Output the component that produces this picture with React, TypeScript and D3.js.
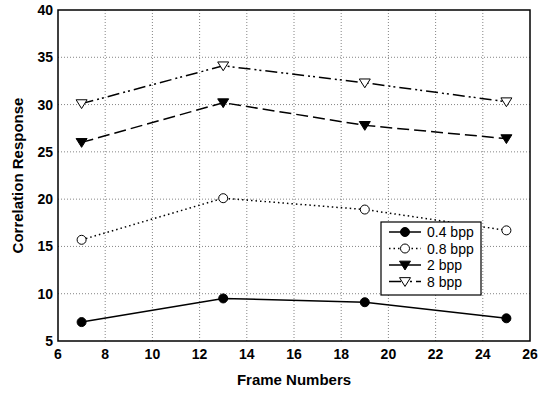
import React from 'react';
import * as d3 from 'd3';

const frames = [7, 13, 19, 25];
const bpp04 = [7.0, 9.5, 9.1, 7.4];
const bpp08 = [15.7, 20.1, 18.9, 16.7];
const bpp2 = [26.0, 30.2, 27.8, 26.4];
const bpp8 = [30.1, 34.1, 32.3, 30.3];
const xTicks = [6, 8, 10, 12, 14, 16, 18, 20, 22, 24, 26];
const yTicks = [5, 10, 15, 20, 25, 30, 35, 40];

const series = [
    { name: '0.4 bpp', values: bpp04, dash: '', legendDash: '', marker: 'circle', fill: '#000' },
    { name: '0.8 bpp', values: bpp08, dash: '1.5,3', legendDash: '1.5,3', marker: 'circle', fill: '#fff' },
    { name: '2 bpp', values: bpp2, dash: '12,5', legendDash: '', marker: 'down', fill: '#000' },
    { name: '8 bpp', values: bpp8, dash: '12,4,2,3,2,4', legendDash: '12,4,2,3,2,4', marker: 'down', fill: '#fff' },
];

const width = 548;
const height = 393;
const margin = { top: 10, right: 18, bottom: 52, left: 58 };

const Marker = ({ type, fill, x, y }: { type: string; fill: string; x: number; y: number }) => {
    if (type === 'circle') {
        return <circle cx={x} cy={y} r={4.5} fill={fill} stroke="#000" strokeWidth={1} />;
    }
    const s = 5.5;
    return (
        <path
            d={`M${x - s},${y - s * 0.7} L${x + s},${y - s * 0.7} L${x},${y + s * 0.9} Z`}
            fill={fill}
            stroke="#000"
            strokeWidth={1}
        />
    );
};

const App = () => {
    const xScale = d3.scaleLinear().domain([6, 26]).range([margin.left, width - margin.right]);
    const yScale = d3.scaleLinear().domain([5, 40]).range([height - margin.bottom, margin.top]);

    const line = d3.line<number>()
        .x((_, i) => xScale(frames[i]))
        .y(d => yScale(d));

    const x0 = xScale.range()[0];
    const x1 = xScale.range()[1];
    const y0 = yScale.range()[0];
    const y1 = yScale.range()[1];

    const legend = { x: 381, y: 222, w: 100, h: 73 };

    return (
        <svg width={width} height={height} style={{ position: 'absolute', left: 0, top: 0, background: '#fff' }}
            fontFamily="'Liberation Sans', Arial, sans-serif">
            {/* grid */}
            {xTicks.slice(1, -1).map(t => (
                <line key={'gx' + t} x1={xScale(t)} x2={xScale(t)} y1={y0} y2={y1}
                    stroke="#666" strokeWidth={0.8} strokeDasharray="1,2" />
            ))}
            {yTicks.slice(1, -1).map(t => (
                <line key={'gy' + t} x1={x0} x2={x1} y1={yScale(t)} y2={yScale(t)}
                    stroke="#666" strokeWidth={0.8} strokeDasharray="1,2" />
            ))}
            {/* frame */}
            <rect x={x0} y={y1} width={x1 - x0} height={y0 - y1} fill="none" stroke="#000" strokeWidth={1.5} />

            {/* ticks */}
            {xTicks.map(t => (
                <text key={'tx' + t} x={xScale(t)} y={y0 + 18} textAnchor="middle" fontSize={14} fontWeight="bold">{t}</text>
            ))}
            {yTicks.map(t => (
                <text key={'ty' + t} x={x0 - 5} y={yScale(t) + 5} textAnchor="end" fontSize={14} fontWeight="bold">{t}</text>
            ))}

            {/* series */}
            {series.map(s => (
                <g key={s.name}>
                    <path d={line(s.values) || ''} fill="none" stroke="#000" strokeWidth={1.5} strokeDasharray={s.dash} />
                    {s.values.map((v, i) => (
                        <Marker key={i} type={s.marker} fill={s.fill} x={xScale(frames[i])} y={yScale(v)} />
                    ))}
                </g>
            ))}

            {/* legend */}
            <rect x={legend.x} y={legend.y} width={legend.w} height={legend.h} fill="#fff" stroke="#000" strokeWidth={1.2} />
            {series.map((s, i) => {
                const ly = legend.y + 10 + i * 16.5;
                return (
                    <g key={'lg' + s.name}>
                        <line x1={legend.x + 8} x2={legend.x + 40} y1={ly} y2={ly} stroke="#000" strokeWidth={1.5}
                            strokeDasharray={s.legendDash} />
                        <Marker type={s.marker} fill={s.fill} x={legend.x + 24} y={ly} />
                        <text x={legend.x + 46} y={ly + 5} fontSize={14}>{s.name}</text>
                    </g>
                );
            })}

            {/* axis titles */}
            <text x={(x0 + x1) / 2} y={385} textAnchor="middle" fontSize={15} fontWeight="bold">Frame Numbers</text>
            <text transform={`translate(23,${(y0 + y1) / 2}) rotate(-90)`} textAnchor="middle" fontSize={15} fontWeight="bold">Correlation Response</text>
        </svg>
    );
};

export default App;
